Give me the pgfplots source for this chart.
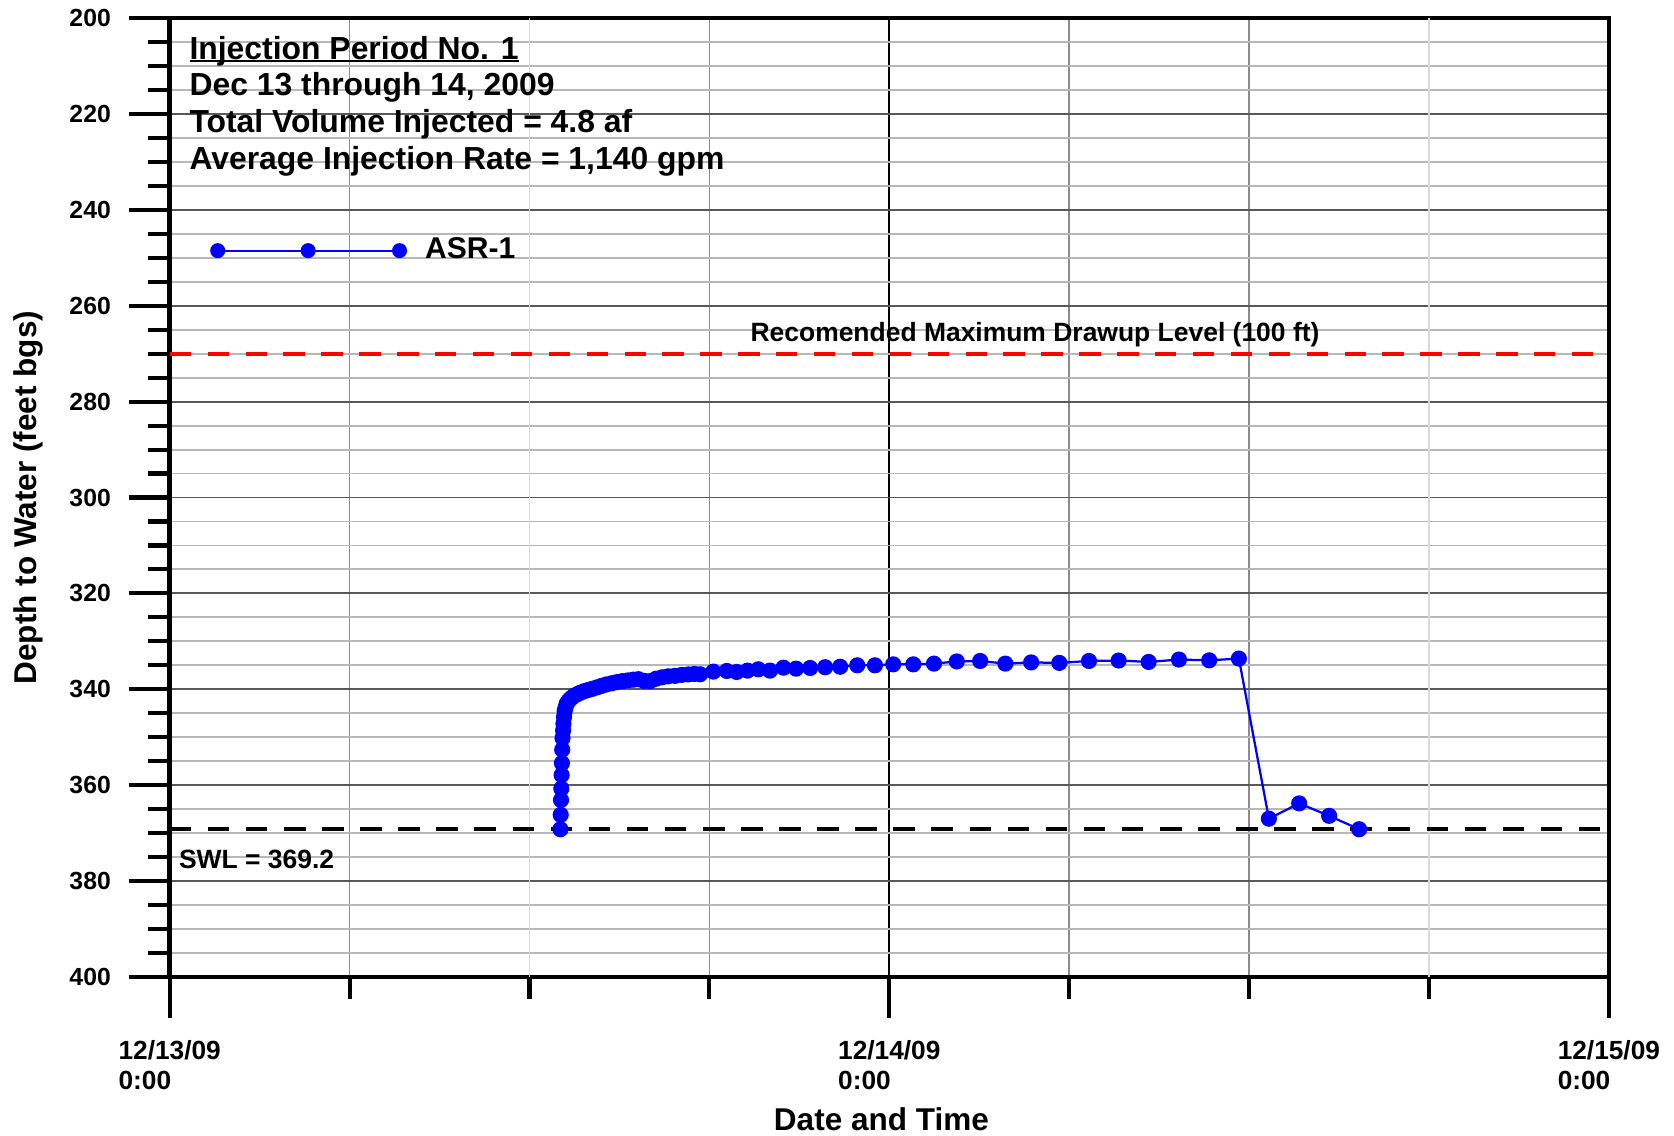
\documentclass[border=0pt]{standalone}
\usepackage{fontspec}
\setmainfont{Liberation Sans}
\usepackage{pgfplots}
\pgfplotsset{compat=1.18}

\newcommand\fs[1]{\bfseries\fontsize{#1}{#1}\selectfont}
% underline sitting just under the baseline, as in the reference
\newcommand\ul[1]{\setbox0\hbox{#1}\rlap{\rule[-0.75pt]{\wd0}{0.55pt}}\box0}

\begin{document}
\begin{tikzpicture}
\useasboundingbox (-1.59,-1.49) rectangle (14.09,9.15);
\begin{axis}[
  at={(0,0)}, anchor=south west,
  scale only axis, width=13.48cm, height=8.98cm,
  xmin=0, xmax=48, ymin=200, ymax=400, y dir=reverse,
  axis line style={line width=1.2pt},
  tick align=outside, tick pos=left,
  xtick={0,24,48},
  xticklabels={{12/13/09\\0:00},{12/14/09\\0:00},{12/15/09\\0:00}},
  minor xtick={6,18,30,36},
  extra x ticks={12,42}, extra x tick labels={},
  extra x tick style={grid=major, major tick length=0.205cm,
    major x grid style={line width=0.4pt, black!15}},
  ytick={200,220,...,400},
  minor ytick={205,210,...,395},
  major tick length=0.385cm, minor tick length=0.205cm,
  tick style={line width=1.1pt, black},
  grid=both,
  major x grid style={line width=0.5pt, black},
  minor x grid style={line width=0.4pt, black!45},
  major y grid style={line width=0.5pt, black!65},
  minor y grid style={line width=0.5pt, black!28},
  /pgf/number format/assume math mode=true,
  xticklabel style={font=\bfseries\fontsize{7}{8.1}\selectfont, align=left, anchor=north, inner sep=0pt, yshift=-0.20cm},
  yticklabel style={font=\fs{6.6}, anchor=east, inner sep=0pt, xshift=-0.16cm},
  xlabel={Date and Time}, ylabel={Depth to Water (feet bgs)},
  every axis x label/.style={at={(axis description cs:0.4945,-0.1598)}, anchor=base, font=\fs{8.4}},
  every axis y label/.style={at={(axis description cs:-0.0979,0.5)}, anchor=center, rotate=90, font=\fs{8.4}},
  legend style={at={(axis description cs:0.0276,0.7575)}, anchor=west, draw=none, fill=none,
    inner sep=0pt, font=\fs{8}, column sep=0.1cm},
  legend cell align=left,
  legend image code/.code={
    \draw[blue, line width=0.6pt] (0cm,0cm) -- (1.703cm,0cm);
    \fill[blue] (0cm,0cm) circle (1.7pt) (0.847cm,0cm) circle (1.7pt) (1.703cm,0cm) circle (1.7pt);
  },
]
\addplot[blue, line width=0.6pt, mark=*, mark size=1.85pt, mark options={solid, fill=blue, draw=blue}] coordinates {
 (13.03,369.2) (13.04,366.2) (13.05,363.1) (13.06,360.7) (13.07,357.9) (13.08,355.4)
 (13.09,352.6) (13.10,350.2) (13.12,348.6) (13.13,347.2) (13.15,345.8) (13.17,344.6)
 (13.20,343.8) (13.24,343.0) (13.29,342.5) (13.35,342.1) (13.42,341.7) (13.50,341.3)
 (13.60,341.0) (13.70,340.7) (13.82,340.4) (13.96,340.15) (14.10,339.9) (14.25,339.6)
 (14.40,339.3) (14.56,339.0) (14.74,338.75) (14.92,338.5) (15.10,338.3) (15.28,338.15)
 (15.46,338.0) (15.63,337.9) (15.82,338.25) (16.02,338.3) (16.22,337.8) (16.42,337.5)
 (16.62,337.3) (16.85,337.2) (17.08,337.0) (17.30,336.9) (17.50,336.8) (17.69,336.87)
 (18.13,336.32) (18.58,336.18) (18.91,336.39) (19.27,336.11) (19.63,335.83) (20.02,336.11)
 (20.47,335.5) (20.89,335.7) (21.36,335.56) (21.86,335.4) (22.36,335.3) (22.93,335.0)
 (23.52,335.0) (24.13,334.8) (24.80,334.8) (25.49,334.65) (26.25,334.2) (27.03,334.1)
 (27.87,334.65) (28.73,334.4) (29.67,334.5) (30.66,334.1) (31.65,334.0) (32.65,334.3)
 (33.66,333.8) (34.67,333.96) (35.66,333.6) (36.66,367.0) (37.67,363.8) (38.67,366.4)
 (39.67,369.2)};
\addlegendentry{ASR-1}
\addplot[red, dash pattern=on 5.7pt off 4.4pt, line width=1pt, forget plot] coordinates {(0,270) (48,270)};
\addplot[black, dash pattern=on 5.75pt off 4.4pt, line width=1.06pt, forget plot] coordinates {(0,369.2) (48,369.2)};

\node[anchor=base west, inner sep=0pt, font=\fs{8.5}] at (axis cs:0.634,208.53) {\ul{Injection Period No. 1}};
\node[anchor=base west, inner sep=0pt, font=\fs{8.5}] at (axis cs:0.634,216.17) {Dec 13 through 14, 2009};
\node[anchor=base west, inner sep=0pt, font=\fs{8.5}] at (axis cs:0.634,223.90) {Total Volume Injected = 4.8 af};
\node[anchor=base west, inner sep=0pt, font=\fs{8.5}] at (axis cs:0.634,231.67) {Average Injection Rate = 1,140 gpm};
\node[anchor=base, inner sep=0pt, font=\fs{7.05}] at (axis cs:28.86,267.5) {Recomended Maximum Drawup Level (100 ft)};
\node[anchor=base west, inner sep=0pt, font=\fs{7.05}] at (axis cs:0.285,377.3) {SWL = 369.2};
\end{axis}
\end{tikzpicture}
\end{document}
